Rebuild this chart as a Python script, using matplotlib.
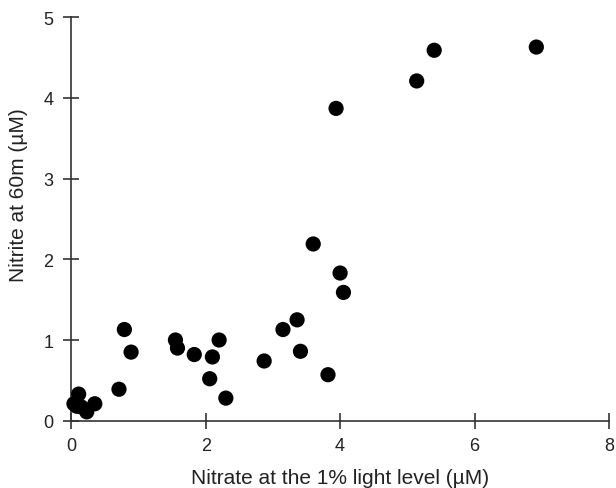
import matplotlib
matplotlib.use("Agg")
import matplotlib.pyplot as plt

# Nitrate at the 1% light level vs nitrite at 60 m (µM)
nitrate = [0.04, 0.08, 0.11, 0.15, 0.23, 0.35, 0.71, 0.79, 0.89,
           1.55, 1.58, 1.83, 2.06, 2.10, 2.20, 2.30, 2.87,
           3.15, 3.36, 3.41, 3.60, 3.82, 3.94, 4.00, 4.05,
           5.14, 5.40, 6.92]
nitrite = [0.21, 0.18, 0.33, 0.17, 0.11, 0.21, 0.39, 1.13, 0.85,
           1.00, 0.90, 0.82, 0.52, 0.79, 1.00, 0.28, 0.74,
           1.13, 1.25, 0.86, 2.19, 0.57, 3.87, 1.83, 1.59,
           4.21, 4.59, 4.63]

xticks = [0, 2, 4, 6, 8]
yticks = [0, 1, 2, 3, 4, 5]

plt.rcParams["font.family"] = ["Liberation Sans", "DejaVu Sans"]

fig = plt.figure(figsize=(6.16, 4.89), dpi=100)
ax = fig.add_axes([0.1157, 0.1376, 0.8728, 0.8252])

ax.scatter(nitrate, nitrite, s=120, color="black", edgecolors="none", zorder=3,
           clip_on=False)

ax.set_xlim(0, 8)
ax.set_ylim(0, 5)
ax.set_xticks(xticks)
ax.set_yticks(yticks)

for side in ("top", "right"):
    ax.spines[side].set_visible(False)
for side in ("left", "bottom"):
    ax.spines[side].set_color("#333333")
    ax.spines[side].set_linewidth(1.2)

ax.tick_params(direction="inout", length=12, width=1.2, color="#333333",
               labelsize=13, labelcolor="#222222")
ax.tick_params(axis="x", pad=6)
ax.tick_params(axis="y", pad=7)

ax.set_xlabel("Nitrate at the 1% light level (\u00b5M)", fontsize=15,
              color="#222222", labelpad=10)
ax.set_ylabel("Nitrite at 60m (\u00b5M)", fontsize=15, color="#222222")
ax.yaxis.set_label_coords(-0.08, 0.562)

fig.savefig("out.png", dpi=100)
